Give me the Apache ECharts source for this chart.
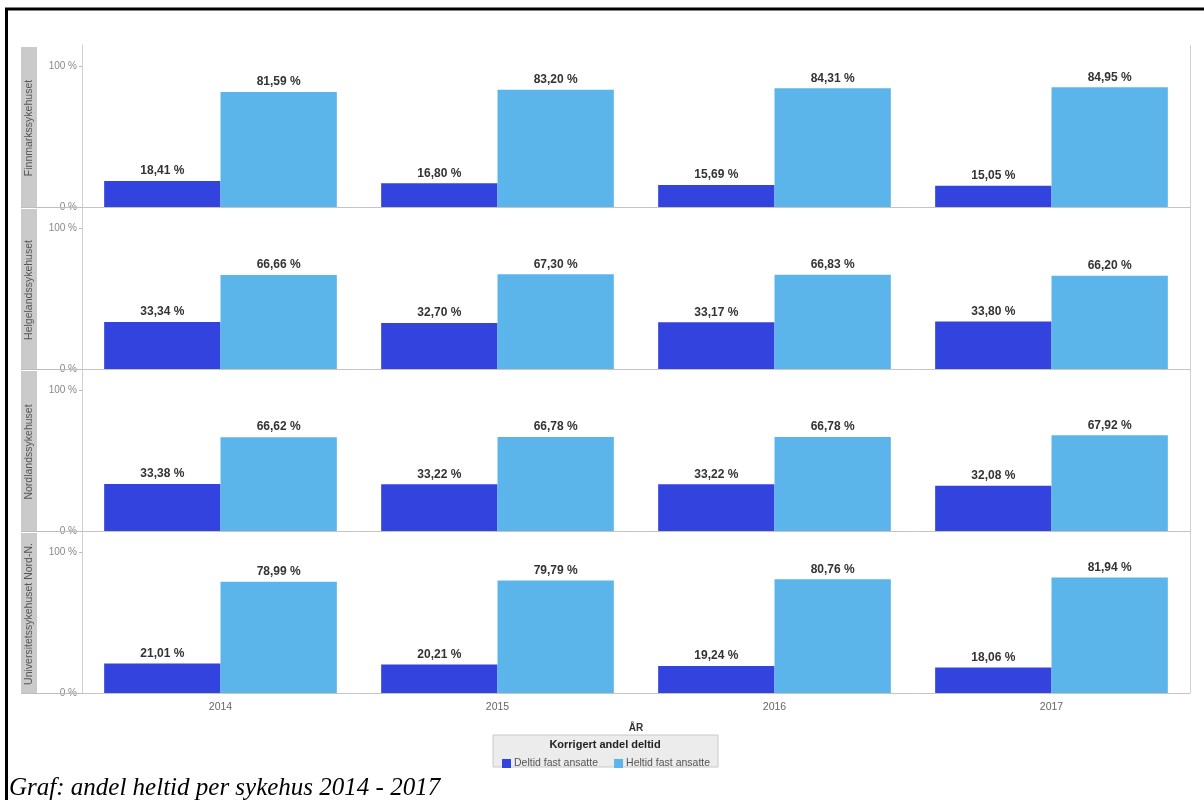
<!DOCTYPE html>
<html>
<head>
<meta charset="utf-8">
<script src="https://cdn.jsdelivr.net/npm/echarts@6/dist/echarts.min.js"></script>
<style>
html,body{margin:0;padding:0;background:#fff;}
#chart{width:1204px;height:800px;}
</style>
</head>
<body>
<div id="chart"></div>
<script>
const years = ['2014', '2015', '2016', '2017'];
const hospitals = ['Finnmarkssykehuset', 'Helgelandssykehuset', 'Nordlandssykehuset', 'Universitetssykehuset Nord-N.'];
const deltidFinnmark = [18.41, 16.80, 15.69, 15.05];
const heltidFinnmark = [81.59, 83.20, 84.31, 84.95];
const deltidHelgeland = [33.34, 32.70, 33.17, 33.80];
const heltidHelgeland = [66.66, 67.30, 66.83, 66.20];
const deltidNordland = [33.38, 33.22, 33.22, 32.08];
const heltidNordland = [66.62, 66.78, 66.78, 67.92];
const deltidUNN = [21.01, 20.21, 19.24, 18.06];
const heltidUNN = [78.99, 79.79, 80.76, 81.94];
const yTicks = [0, 100];
const seriesNames = ['Deltid fast ansatte', 'Heltid fast ansatte'];
const legendTitle = 'Korrigert andel deltid';
const xTitle = 'ÅR';
const caption = 'Graf: andel heltid per sykehus 2014 - 2017';

const deltid = [deltidFinnmark, deltidHelgeland, deltidNordland, deltidUNN];
const heltid = [heltidFinnmark, heltidHelgeland, heltidNordland, heltidUNN];

const FONT = "'Liberation Sans', Arial, sans-serif";
const colDark = '#3343DD';
const colLight = '#5CB5EA';
const panelTop = 45, panelH = 162, plotLeft = 82, plotRight = 1190;

const grids = [], xAxes = [], yAxes = [], series = [], graphics = [];
const fmt = p => p.value.toFixed(2).replace('.', ',') + ' %';

for (let i = 0; i < 4; i++) {
  const top = panelTop + i * panelH;
  grids.push({left: plotLeft, width: plotRight - plotLeft, top: top, height: panelH});
  const last = i === 3;
  xAxes.push({
    type: 'category', gridIndex: i, data: years,
    axisLine: {show: true, lineStyle: {color: '#c4c4c4', width: 1}},
    axisTick: {show: false},
    axisLabel: {show: last, color: '#666', fontSize: 10.5, fontFamily: FONT, margin: 9},
    name: last ? xTitle : '', nameLocation: 'middle', nameGap: 30,
    nameTextStyle: {fontSize: 10, fontWeight: 'bold', color: '#333', fontFamily: FONT}
  });
  yAxes.push({
    type: 'value', gridIndex: i, min: 0, max: 115,
    axisLine: {show: true, lineStyle: {color: '#d0d0d0'}},
    axisTick: {show: true, customValues: yTicks, length: 3, lineStyle: {color: '#bbb'}},
    axisLabel: {customValues: yTicks, formatter: v => v + ' %', color: '#888', fontSize: 10, fontFamily: FONT, margin: 5},
    splitLine: {show: false}
  });
  const label = {show: true, position: 'top', formatter: fmt, fontSize: 12, fontWeight: 'bold', color: '#333', fontFamily: FONT, distance: 4};
  series.push({
    type: 'bar', name: seriesNames[0], xAxisIndex: i, yAxisIndex: i, data: deltid[i],
    itemStyle: {color: colDark}, barGap: '0%', barCategoryGap: '16%', label: label
  });
  series.push({
    type: 'bar', name: seriesNames[1], xAxisIndex: i, yAxisIndex: i, data: heltid[i],
    itemStyle: {color: colLight}, barGap: '0%', barCategoryGap: '16%', label: label
  });
  // strip
  graphics.push({type: 'rect', shape: {x: 21, y: top + 2, width: 16, height: panelH - 2}, style: {fill: '#cacaca'}, z: 1});
  graphics.push({type: 'text', x: 29, y: top + panelH / 2 + 2, rotation: Math.PI / 2,
    style: {text: hospitals[i], fill: '#555', font: '10.5px ' + FONT, textAlign: 'center', textVerticalAlign: 'middle'}, z: 2});
  graphics.push({type: 'line', shape: {x1: 21, y1: top + panelH + 0.5, x2: plotLeft, y2: top + panelH + 0.5}, style: {stroke: '#bdbdbd', lineWidth: 1}, z: 2});
}
// right border
graphics.push({type: 'line', shape: {x1: plotRight + 0.5, y1: panelTop, x2: plotRight + 0.5, y2: panelTop + 4 * panelH}, style: {stroke: '#d0d0d0', lineWidth: 1}});
// legend box
graphics.push({type: 'rect', shape: {x: 493, y: 735, width: 225, height: 32}, style: {fill: '#ececec', stroke: '#c8c8c8', lineWidth: 1}, z: 0});
graphics.push({type: 'text', x: 605, y: 745, style: {text: legendTitle, fill: '#222', font: 'bold 11px ' + FONT, textAlign: 'center', textVerticalAlign: 'middle'}});
// frame
graphics.push({type: 'line', shape: {x1: 5, y1: 9, x2: 1204, y2: 9}, style: {stroke: '#000', lineWidth: 3}});
graphics.push({type: 'line', shape: {x1: 6.5, y1: 8, x2: 6.5, y2: 800}, style: {stroke: '#000', lineWidth: 3}});
// caption
graphics.push({type: 'text', x: 9, y: 788, style: {text: caption, fill: '#000', font: "italic 25px 'Liberation Serif', 'Times New Roman', serif", textAlign: 'left', textVerticalAlign: 'middle'}});

const chart = echarts.init(document.getElementById('chart'));
chart.setOption({
  animation: false,
  backgroundColor: '#fff',
  grid: grids, xAxis: xAxes, yAxis: yAxes, series: series,
  legend: {
    data: seriesNames, left: 497, top: 753, itemWidth: 9, itemHeight: 9, itemGap: 16,
    icon: 'rect', textStyle: {fontSize: 10.5, color: '#555', fontFamily: FONT, padding: [0, 0, 0, -2]}
  },
  graphic: graphics
});
</script>
</body>
</html>
